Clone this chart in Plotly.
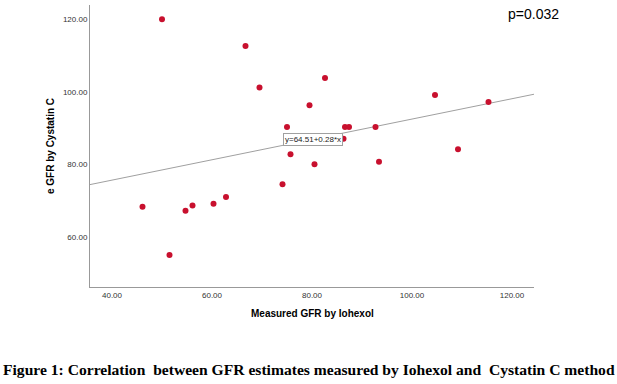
import plotly.graph_objects as go

# Measured GFR by Iohexol (x) and eGFR by Cystatin C (y)
iohexol = [50.0, 66.7, 69.5, 75.0, 75.7, 74.1, 62.8, 46.1, 54.7, 56.1, 60.3, 51.5,
           82.6, 79.5, 86.6, 87.4, 92.7, 86.3, 80.5, 93.4, 104.6, 115.3, 109.2]
cystatin = [120.0, 112.6, 101.2, 90.3, 82.8, 74.6, 71.1, 68.4, 67.3, 68.7, 69.2, 55.1,
            103.8, 96.3, 90.3, 90.3, 90.3, 87.1, 80.1, 80.8, 99.1, 97.2, 84.2]

intercept = 64.51
slope = 0.28
x_range = [35.6, 124.4]
y_range = [46.3, 123.9]
x_ticks = [40, 60, 80, 100, 120]
y_ticks = [60, 80, 100, 120]

line_x = x_range
line_y = [intercept + slope * v for v in line_x]

fig = go.Figure()
fig.add_trace(go.Scatter(x=line_x, y=line_y, mode="lines",
                         line=dict(color="#a0a0a0", width=1), hoverinfo="skip",
                         showlegend=False))
fig.add_trace(go.Scatter(x=iohexol, y=cystatin, mode="markers",
                         marker=dict(color="#C8102E", size=6), showlegend=False))

tickfont = dict(family="Liberation Sans, Arial", size=8, color="#333333")
fig.update_xaxes(range=x_range, tickvals=x_ticks, tickformat=".2f", showgrid=False,
                 zeroline=False, showline=True, linecolor="#999999", linewidth=1,
                 ticks="", tickfont=tickfont)
fig.update_yaxes(range=y_range, tickvals=y_ticks, tickformat=".2f", showgrid=False,
                 zeroline=False, showline=True, linecolor="#999999", linewidth=1,
                 ticks="", tickfont=tickfont)

fig.add_annotation(x=80.1, y=86.8, xref="x", yref="y", showarrow=False,
                   xanchor="center", yanchor="middle",
                   text="y=64.51+0.28*x", bgcolor="white", bordercolor="#a0a0a0",
                   borderwidth=1, borderpad=1,
                   font=dict(family="Liberation Sans, Arial", size=8, color="#222222"))
fig.add_annotation(x=-0.09, y=0.5, xref="paper", yref="paper", showarrow=False,
                   xanchor="center", yanchor="middle",
                   text="<b>e GFR by Cystatin C</b>", textangle=-90,
                   font=dict(family="Liberation Sans, Arial", size=10, color="black"))
fig.add_annotation(x=0.5, y=-0.0957, xref="paper", yref="paper", showarrow=False,
                   xanchor="center", yanchor="middle",
                   text="<b>Measured GFR by Iohexol</b>",
                   font=dict(family="Liberation Sans, Arial", size=10, color="black"))
fig.add_annotation(x=0.998, y=0.968, xref="paper", yref="paper", showarrow=False,
                   xanchor="center", yanchor="middle",
                   text="p=0.032",
                   font=dict(family="Liberation Sans, Arial", size=14, color="black"))
fig.add_annotation(x=0.493, y=-0.294, xref="paper", yref="paper", showarrow=False,
                   xanchor="center", yanchor="middle",
                   text="<b>Figure 1: Correlation\u00a0 between GFR estimates measured by Iohexol and\u00a0 Cystatin C method</b>",
                   font=dict(family="Liberation Serif, Times New Roman", size=15.6, color="black"))

fig.update_layout(width=617, height=384, margin=dict(l=90, r=83, t=5, b=97),
                  plot_bgcolor="white", paper_bgcolor="white")

fig.write_html("out.html", config={"displayModeBar": False},
               post_script="document.body.style.margin='0';")
